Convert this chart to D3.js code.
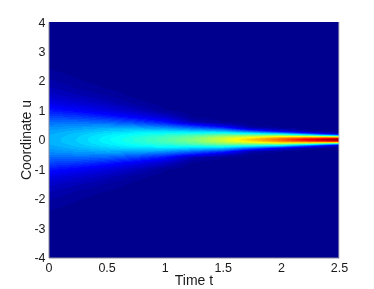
<!DOCTYPE html>
<html>
<head>
<meta charset="utf-8">
<script src="https://cdn.jsdelivr.net/npm/d3@7"></script>
<style>
  html, body { margin: 0; padding: 0; background: #fff; }
  #chart { position: relative; width: 374px; height: 289px; overflow: hidden; }
  canvas, svg { position: absolute; left: 0; top: 0; }
  canvas { filter: blur(0.4px); }
  text { font-family: "Liberation Sans", Arial, sans-serif; fill: #1a1a1a; }
</style>
</head>
<body>
<div id="chart"></div>
<script>
var times = [0, 0.25, 0.5, 0.75, 1, 1.25, 1.5, 1.75, 2, 2.25, 2.5];
// distance from u = 0, the picture is mirrored around that line
var uLevels = [0, 0.05, 0.1, 0.15, 0.2, 0.25, 0.3, 0.4, 0.5, 0.6, 0.8, 1, 1.25, 1.5, 1.75, 2, 2.4, 3, 4];
// one row per time, one value per uLevel
var density = [
  [0.30, 0.300, 0.298, 0.295, 0.292, 0.287, 0.282, 0.268, 0.252, 0.234, 0.192, 0.150, 0.105, 0.072, 0.050, 0.034, 0.016, 0.004, 0],
  [0.33, 0.329, 0.327, 0.323, 0.318, 0.311, 0.303, 0.283, 0.260, 0.234, 0.179, 0.127, 0.082, 0.050, 0.030, 0.018, 0.005, 0, 0],
  [0.37, 0.369, 0.365, 0.359, 0.350, 0.339, 0.326, 0.297, 0.262, 0.224, 0.152, 0.098, 0.055, 0.030, 0.015, 0.005, 0, 0, 0],
  [0.41, 0.408, 0.401, 0.391, 0.376, 0.359, 0.339, 0.294, 0.243, 0.194, 0.113, 0.060, 0.024, 0.010, 0.003, 0, 0, 0, 0],
  [0.45, 0.446, 0.436, 0.419, 0.397, 0.370, 0.340, 0.273, 0.206, 0.146, 0.068, 0.018, 0.006, 0.001, 0, 0, 0, 0, 0],
  [0.50, 0.494, 0.476, 0.448, 0.411, 0.369, 0.322, 0.229, 0.148, 0.045, 0.008, 0.003, 0, 0, 0, 0, 0, 0, 0],
  [0.58, 0.569, 0.539, 0.491, 0.431, 0.365, 0.298, 0.177, 0.075, 0.016, 0.003, 0.001, 0, 0, 0, 0, 0, 0, 0],
  [0.68, 0.655, 0.590, 0.500, 0.400, 0.298, 0.200, 0.040, 0.012, 0.005, 0.001, 0, 0, 0, 0, 0, 0, 0, 0],
  [0.78, 0.745, 0.650, 0.510, 0.360, 0.210, 0.090, 0.016, 0.006, 0.001, 0, 0, 0, 0, 0, 0, 0, 0, 0],
  [0.90, 0.820, 0.650, 0.430, 0.220, 0.090, 0.016, 0.003, 0, 0, 0, 0, 0, 0, 0, 0, 0, 0, 0],
  [1.00, 0.880, 0.620, 0.280, 0.060, 0.016, 0.004, 0, 0, 0, 0, 0, 0, 0, 0, 0, 0, 0, 0]
];
var xTicks = [0, 0.5, 1, 1.5, 2, 2.5];
var yTicks = [-4, -3, -2, -1, 0, 1, 2, 3, 4];
var jetStops = [0, 0.125, 0.375, 0.625, 0.875, 1];
var jetColors = ['#00008f', '#0000ff', '#00ffff', '#ffff00', '#ff0000', '#800000'];

var w = 374, h = 289;
var margin = { top: 22, right: 35, bottom: 31.5, left: 48.5 };
var colorLevels = 64;

var xScale = d3.scaleLinear().domain([0, 2.5]).range([margin.left, w - margin.right]);
var yScale = d3.scaleLinear().domain([-4, 4]).range([h - margin.bottom, margin.top]);
var color = d3.scaleLinear().domain(jetStops).range(jetColors).clamp(true);

var chart = d3.select('#chart');
var canvas = chart.append('canvas').attr('width', w).attr('height', h);
var ctx = canvas.node().getContext('2d');

// same as shading interp, blend between the four nearest grid values
function sample(t, u) {
  var a = Math.abs(u);
  var i = Math.min(d3.bisectRight(times, t) - 1, times.length - 2);
  var j = Math.min(d3.bisectRight(uLevels, a) - 1, uLevels.length - 2);
  var ft = (t - times[i]) / (times[i + 1] - times[i]);
  var fu = (a - uLevels[j]) / (uLevels[j + 1] - uLevels[j]);
  var top = density[i][j] * (1 - ft) + density[i + 1][j] * ft;
  var bottom = density[i][j + 1] * (1 - ft) + density[i + 1][j + 1] * ft;
  return top * (1 - fu) + bottom * fu;
}

// 64 colour colormap, that gives the faint edge of the dark blue area
function levelColor(v) {
  var level = Math.min(colorLevels - 1, Math.floor(v * colorLevels));
  return color(level / (colorLevels - 1));
}

var x0 = Math.round(xScale.range()[0]), x1 = Math.round(xScale.range()[1]);
var y0 = Math.round(yScale.range()[1]), y1 = Math.round(yScale.range()[0]);
for (var px = x0; px < x1; px++) {
  for (var py = y0; py < y1; py++) {
    ctx.fillStyle = levelColor(sample(xScale.invert(px + 0.5), yScale.invert(py + 0.5)));
    ctx.fillRect(px, py, 1, 1);
  }
}

var svg = chart.append('svg').attr('width', w).attr('height', h);

var xAxis = d3.axisBottom(xScale).tickValues(xTicks).tickSize(0).tickPadding(5.5).tickFormat(function(n) { return n; });
var yAxis = d3.axisLeft(yScale).tickValues(yTicks).tickSize(0).tickPadding(3).tickFormat(function(n) { return n; });

svg.append('g')
  .attr('transform', 'translate(0,' + (h - margin.bottom) + ')')
  .call(xAxis);
svg.append('g')
  .attr('transform', 'translate(' + margin.left + ',0)')
  .call(yAxis);

svg.selectAll('.tick text').attr('font-size', '12.5px').attr('font-family', '"Liberation Sans", Arial, sans-serif');
svg.selectAll('.domain').attr('stroke', '#8a8a9a').attr('stroke-width', 1);

// right edge of the box
svg.append('line')
  .attr('x1', xScale(2.5)).attr('x2', xScale(2.5))
  .attr('y1', yScale(4)).attr('y2', yScale(-4))
  .attr('stroke', '#c4c4c4');

svg.append('text')
  .attr('x', 194).attr('y', 285)
  .attr('text-anchor', 'middle')
  .attr('font-size', '14px')
  .text('Time t');

svg.append('text')
  .attr('transform', 'translate(31,140) rotate(-90)')
  .attr('text-anchor', 'middle')
  .attr('font-size', '14px')
  .text('Coordinate u');
</script>
</body>
</html>
